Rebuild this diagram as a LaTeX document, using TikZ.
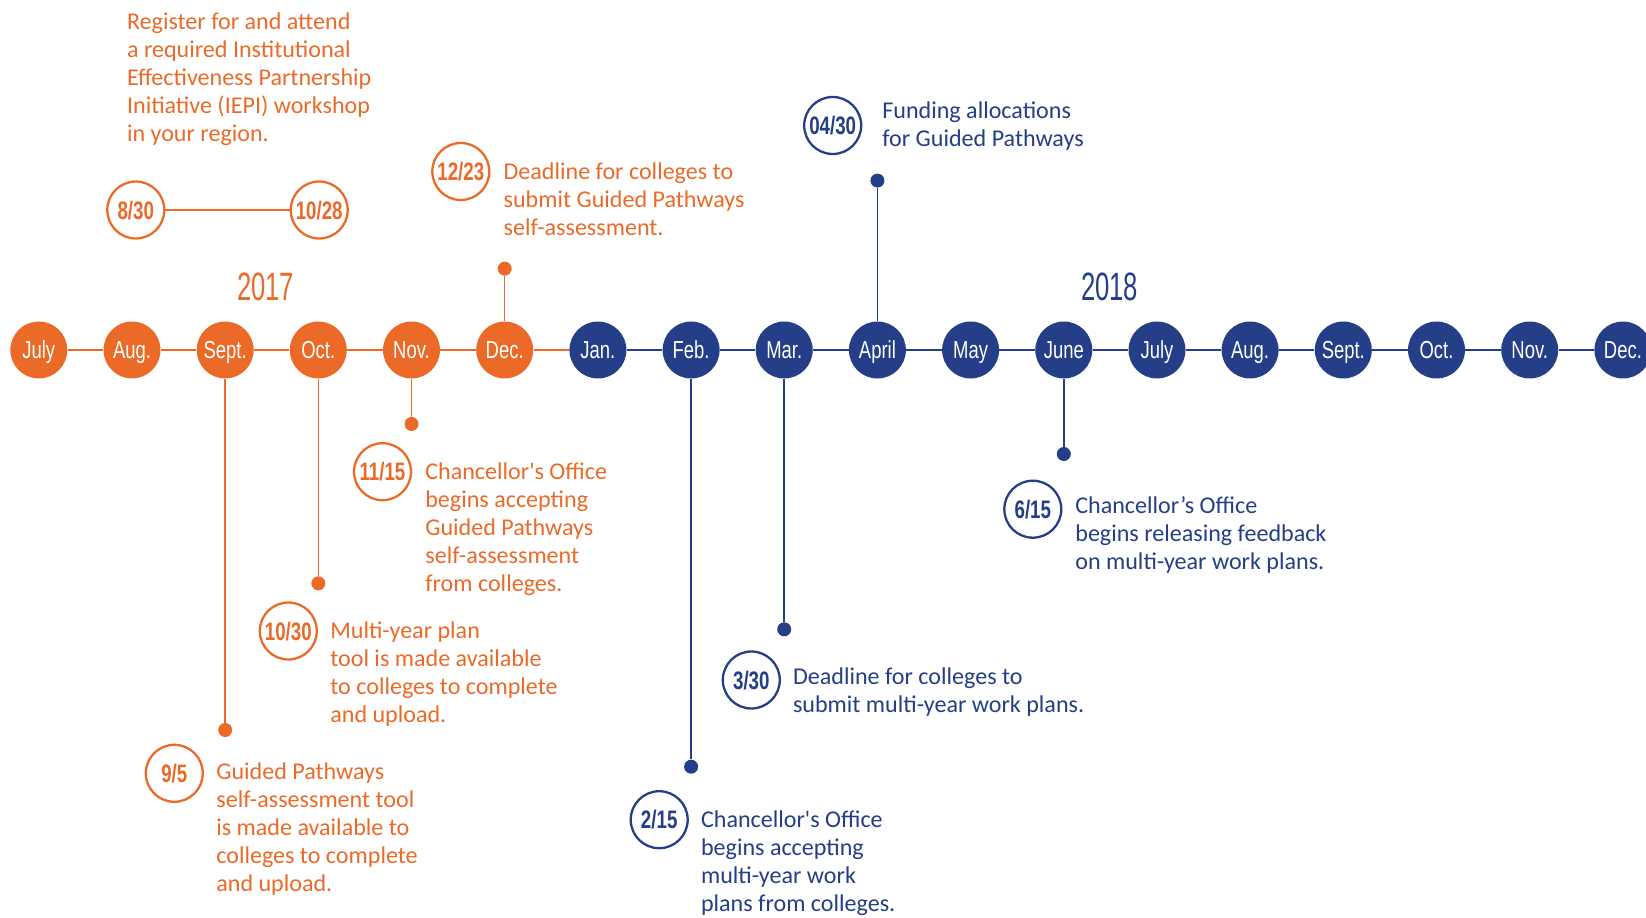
\documentclass[tikz,border=0pt]{standalone}
\usepackage{fontspec}
\setmainfont{Carlito}
\newfontfamily\condfont{Liberation Sans}
\usepackage{graphicx}

\definecolor{tlorange}{RGB}{236,106,40}
\definecolor{tlblue}{RGB}{36,62,135}

\newcommand{\narrow}[2][0.75]{\scalebox{#1}[1]{#2}}

\tikzset{
  month/.style={circle, fill=tlorange, text=white, minimum size=1.14cm, inner sep=0pt,
    text height=10pt, text depth=0pt, font=\condfont\fontsize{14}{14}\selectfont},
  datering/.style={circle, draw=tlorange, line width=1.3pt, text=tlorange, fill=white,
    minimum size=1.14cm, inner sep=0pt, text height=10.3pt, text depth=0pt,
    font=\condfont\bfseries\fontsize{14.4}{14.4}\selectfont},
  enddot/.style={circle, fill=tlorange, minimum size=0.28cm, inner sep=0pt},
  note/.style={anchor=base west, align=left, inner sep=0pt, text=tlorange,
    font=\fontsize{13.7}{15.9}\selectfont},
  link/.style={draw=tlorange, line width=1.2pt},
  stemline/.style={draw=tlorange, line width=0.9pt},
  year/.style={anchor=base, inner sep=0pt, text=tlorange,
    font=\condfont\fontsize{22.5}{22.5}\selectfont},
}

\begin{document}
\begin{tikzpicture}[x=0.02cm, y=-0.02cm]
    \useasboundingbox (0,0) rectangle (1646,918);

    \node[year] (y2017) at (265.6,301) {\narrow[0.65]{2017}};
    \node[month] (m1) at (38.8,350)  {\narrow{July}};
    \node[month] (m2) at (132.0,350) {\narrow{Aug.}};
    \node[month] (m3) at (225.2,350) {\narrow{Sept.}};
    \node[month] (m4) at (318.3,350) {\narrow{Oct.}};
    \node[month] (m5) at (411.5,350) {\narrow{Nov.}};
    \node[month] (m6) at (504.7,350) {\narrow{Dec.}};

    \node[enddot] (sepdot) at (225.2,730)   {};
    \node[enddot] (octdot) at (318.3,583.3) {};
    \node[enddot] (novdot) at (411.5,424)   {};
    \node[enddot] (decdot) at (504.7,268.7) {};

    \node[datering] (c830)  at (135.8,210)   {\narrow[0.74]{8/30}};
    \node[datering] (c1028) at (319.2,210)   {\narrow[0.74]{10/28}};
    \node[datering] (c1223) at (460.8,171.5) {\narrow[0.74]{12/23}};
    \node[datering] (c1115) at (382.5,471.7) {\narrow[0.74]{11/15}};
    \node[datering] (c1030) at (288.3,631)   {\narrow[0.74]{10/30}};
    \node[datering] (c95)   at (174.3,773.3) {\narrow[0.74]{9/5}};

    \node[note] (iepi) at (126.7,141.6) {Register for and attend\\a required Institutional\\Effectiveness Partnership\\Initiative (IEPI) workshop\\in your region.};
    \node[note] (n1223) at (503.3,235.1) {Deadline for colleges to\\submit Guided Pathways\\self-assessment.};
    \node[note] (n1115) at (425,591.6) {Chancellor\textquotesingle s Office\\begins accepting\\Guided Pathways\\self-assessment\\from colleges.};
    \node[note] (n1030) at (330,722) {Multi-year plan\\tool is made available\\to colleges to complete\\and upload.};
    \node[note] (n95) at (216,891.6) {Guided Pathways\\self-assessment tool\\is made available to\\colleges to complete\\and upload.};

    \draw[stemline] (c830) -- (c1028);
    \draw[stemline] (m3) -- (sepdot);
    \draw[stemline] (m4) -- (octdot);
    \draw[stemline] (m5) -- (novdot);
    \draw[stemline] (m6) -- (decdot);

    \tikzset{month/.append style={fill=tlblue},
      datering/.append style={draw=tlblue, text=tlblue},
      enddot/.append style={fill=tlblue},
      note/.append style={text=tlblue},
      stemline/.append style={draw=tlblue},
      year/.append style={text=tlblue}}

    \node[year] (y2018) at (1109.6,301) {\narrow[0.65]{2018}};
    \node[month] (m7)  at (597.9,350)  {\narrow{Jan.}};
    \node[month] (m8)  at (691.1,350)  {\narrow{Feb.}};
    \node[month] (m9)  at (784.2,350)  {\narrow{Mar.}};
    \node[month] (m10) at (877.4,350)  {\narrow{April}};
    \node[month] (m11) at (970.6,350)  {\narrow{May}};
    \node[month] (m12) at (1063.8,350) {\narrow{June}};
    \node[month] (m13) at (1157.0,350) {\narrow{July}};
    \node[month] (m14) at (1250.1,350) {\narrow{Aug.}};
    \node[month] (m15) at (1343.3,350) {\narrow{Sept.}};
    \node[month] (m16) at (1436.5,350) {\narrow{Oct.}};
    \node[month] (m17) at (1529.7,350) {\narrow{Nov.}};
    \node[month] (m18) at (1622.9,350) {\narrow{Dec.}};

    \node[enddot] (febdot) at (691.1,766.7)  {};
    \node[enddot] (mardot) at (784.2,629.3)  {};
    \node[enddot] (aprdot) at (877.4,180.6)  {};
    \node[enddot] (jundot) at (1063.8,454)   {};

    \node[datering] (c0430) at (832.7,125.5)  {\narrow[0.74]{04/30}};
    \node[datering] (c330)  at (751.3,680)    {\narrow[0.74]{3/30}};
    \node[datering] (c215)  at (659.2,819.7)  {\narrow[0.74]{2/15}};
    \node[datering] (c615)  at (1032.8,509.2) {\narrow[0.74]{6/15}};

    \node[note] (n0430) at (882,146.2) {Funding allocations\\for Guided Pathways};
    \node[note] (n330) at (792.7,712.9) {Deadline for colleges to\\submit multi-year work plans.};
    \node[note] (n215) at (700.7,911) {Chancellor\textquotesingle s Office\\begins accepting\\multi-year work\\plans from colleges.};
    \node[note] (n615) at (1075,569.8) {Chancellor’s Office\\begins releasing feedback\\on multi-year work plans.};

    \draw[stemline] (m8) -- (febdot);
    \draw[stemline] (m9) -- (mardot);
    \draw[stemline] (m10) -- (aprdot);
    \draw[stemline] (m12) -- (jundot);

    \draw[link, draw=tlorange] (m1) -- (m2);
    \draw[link, draw=tlorange] (m2) -- (m3);
    \draw[link, draw=tlorange] (m3) -- (m4);
    \draw[link, draw=tlorange] (m4) -- (m5);
    \draw[link, draw=tlorange] (m5) -- (m6);
    \draw[link, draw=tlorange] (m6) -- (m7);
    \draw[link, draw=tlblue] (m7) -- (m8);
    \draw[link, draw=tlblue] (m8) -- (m9);
    \draw[link, draw=tlblue] (m9) -- (m10);
    \draw[link, draw=tlblue] (m10) -- (m11);
    \draw[link, draw=tlblue] (m11) -- (m12);
    \draw[link, draw=tlblue] (m12) -- (m13);
    \draw[link, draw=tlblue] (m13) -- (m14);
    \draw[link, draw=tlblue] (m14) -- (m15);
    \draw[link, draw=tlblue] (m15) -- (m16);
    \draw[link, draw=tlblue] (m16) -- (m17);
    \draw[link, draw=tlblue] (m17) -- (m18);
\end{tikzpicture}
\end{document}
